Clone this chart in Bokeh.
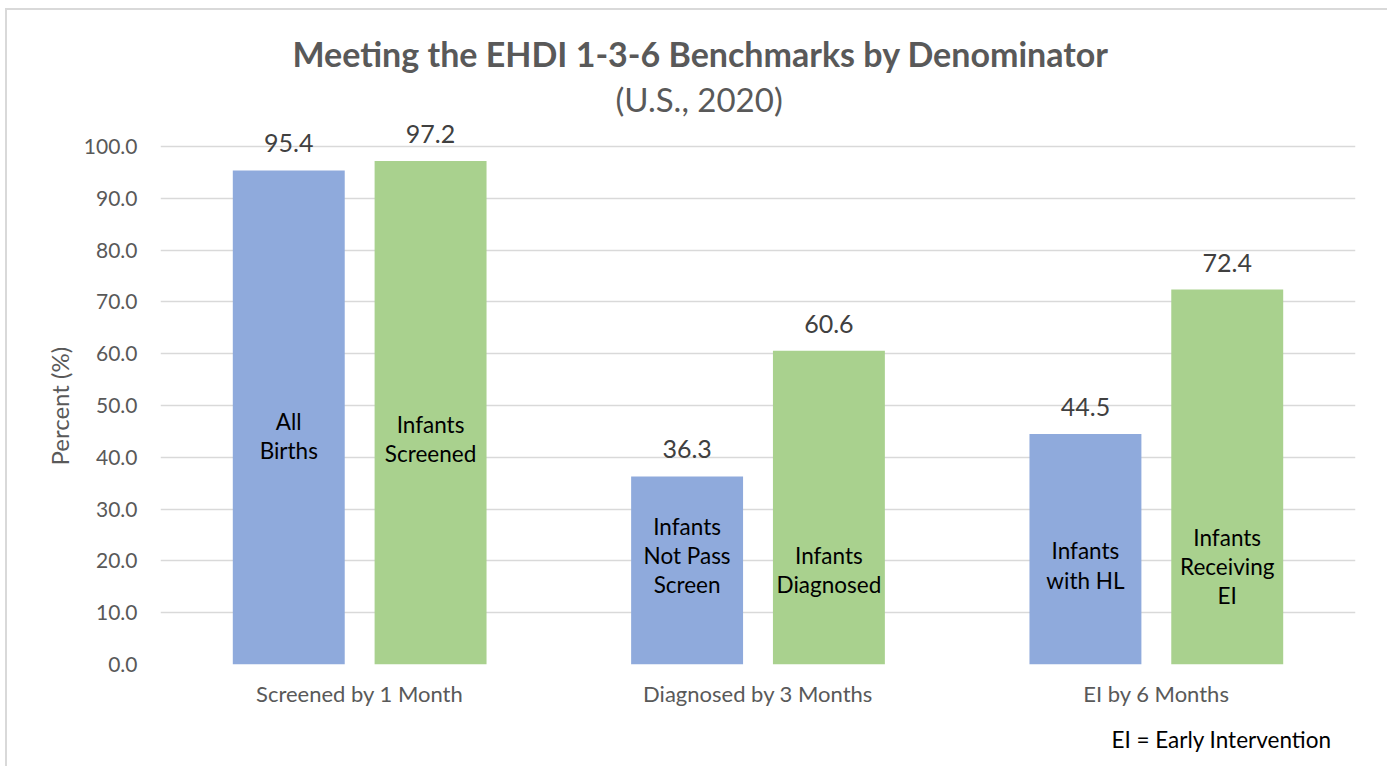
from bokeh.plotting import figure
from bokeh.models import ColumnDataSource, FactorRange, FixedTicker, PrintfTickFormatter, Title
from bokeh.transform import dodge
from bokeh.core.properties import value
from bokeh.embed import file_html
from bokeh.resources import INLINE

# ---- data ----
groups = ["Screened by 1 Month", "Diagnosed by 3 Months", "EI by 6 Months"]
first_values = [95.4, 36.3, 44.5]
second_values = [97.2, 60.6, 72.4]
first_names = ["All\nBirths", "Infants\nNot Pass\nScreen", "Infants\nwith HL"]
second_names = ["Infants\nScreened", "Infants\nDiagnosed", "Infants\nReceiving\nEI"]
y_ticks = [0, 10, 20, 30, 40, 50, 60, 70, 80, 90, 100]

# layout constants (where inner labels sit, data units)
first_name_y = [44.1, 21.0, 19.1]
second_name_y = [43.5, 18.3, 18.9]

FONT = "Lato"
GRAY = "#595959"
BLUE = "#8FAADC"
GREEN = "#A9D18E"
OFF = 0.178
BW = 0.281

src1 = ColumnDataSource(dict(g=groups, v=first_values, t=[f"{x:.1f}" for x in first_values],
                             n=first_names, ny=first_name_y))
src2 = ColumnDataSource(dict(g=groups, v=second_values, t=[f"{x:.1f}" for x in second_values],
                             n=second_names, ny=second_name_y))

W, H = 1382, 758
FL, FB = 153, 654  # frame left / bottom in canvas pixels
p = figure(width=W, height=H, x_range=FactorRange(factors=groups), y_range=(0, 106),
           output_backend="svg", toolbar_location=None,
           min_border_left=FL, min_border_right=34, min_border_top=105, min_border_bottom=H - FB)
p.outline_line_color = None
p.background_fill_color = "white"
p.border_fill_color = "white"
p.styles = {"margin-left": "5px", "margin-top": "8px",
            "border-left": "2px solid #d9d9d9", "border-top": "2px solid #d9d9d9"}

p.vbar(x=dodge("g", -OFF, range=p.x_range), top="v", width=BW, source=src1,
       fill_color=BLUE, line_color=None)
p.vbar(x=dodge("g", OFF, range=p.x_range), top="v", width=BW, source=src2,
       fill_color=GREEN, line_color=None)

for src, off in ((src1, -OFF), (src2, OFF)):
    p.text(x=dodge("g", off, range=p.x_range), y="v", text="t", source=src,
           text_font=value(FONT), text_font_size="25px", text_color="#404040",
           text_align="center", text_baseline="middle", y_offset=-27)
    p.text(x=dodge("g", off, range=p.x_range), y="ny", text="n", source=src,
           text_font=value(FONT), text_font_size="22.5px", text_color="black",
           text_align="center", text_baseline="middle", text_line_height=1.08)

# axes
p.yaxis.ticker = FixedTicker(ticks=y_ticks)
p.yaxis.formatter = PrintfTickFormatter(format="%.1f")
p.yaxis.axis_line_color = None
p.yaxis.major_tick_line_color = None
p.yaxis.minor_tick_line_color = None
p.yaxis.major_label_text_font = FONT
p.yaxis.major_label_text_font_size = "21px"
p.yaxis.major_label_text_color = GRAY
p.yaxis.major_label_standoff = 17

p.xaxis.axis_line_color = None
p.xaxis.major_tick_line_color = None
p.xaxis.minor_tick_line_color = None
p.xaxis.major_label_text_font = FONT
p.xaxis.major_label_text_font_size = "22px"
p.xaxis.major_label_text_color = GRAY
p.xaxis.major_label_standoff = 9

p.xgrid.grid_line_color = None
p.ygrid.grid_line_color = "#d9d9d9"
p.ygrid.grid_line_width = 1.5

# main title (outer) and subtitle (closest to the frame)
p.title.text = "Meeting the EHDI 1-3-6 Benchmarks by Denominator"
p.title.text_font = FONT
p.title.text_font_size = "34px"
p.title.text_font_style = "bold"
p.title.text_color = GRAY
p.title.align = "left"
p.title.offset = 132
p.title.vertical_align = "bottom"
p.title.standoff = 14
p.add_layout(Title(text="(U.S., 2020)", text_font=FONT, text_font_size="33px",
                   text_font_style="normal", text_color=GRAY, align="left", offset=455,
                   vertical_align="bottom", standoff=-7), "above")

# y axis title
p.add_layout(Title(text="Percent (%)", text_font=FONT, text_font_size="24px",
                   text_font_style="normal", text_color=GRAY, align="left", offset=199,
                   vertical_align="middle", standoff=12), "left")

# footnote
p.add_layout(Title(text="EI = Early Intervention", text_font=FONT, text_font_size="22.5px",
                   text_font_style="normal", text_color="black", align="right", offset=24,
                   vertical_align="middle", standoff=30), "below")

open("out.html", "w").write(file_html(p, INLINE))
